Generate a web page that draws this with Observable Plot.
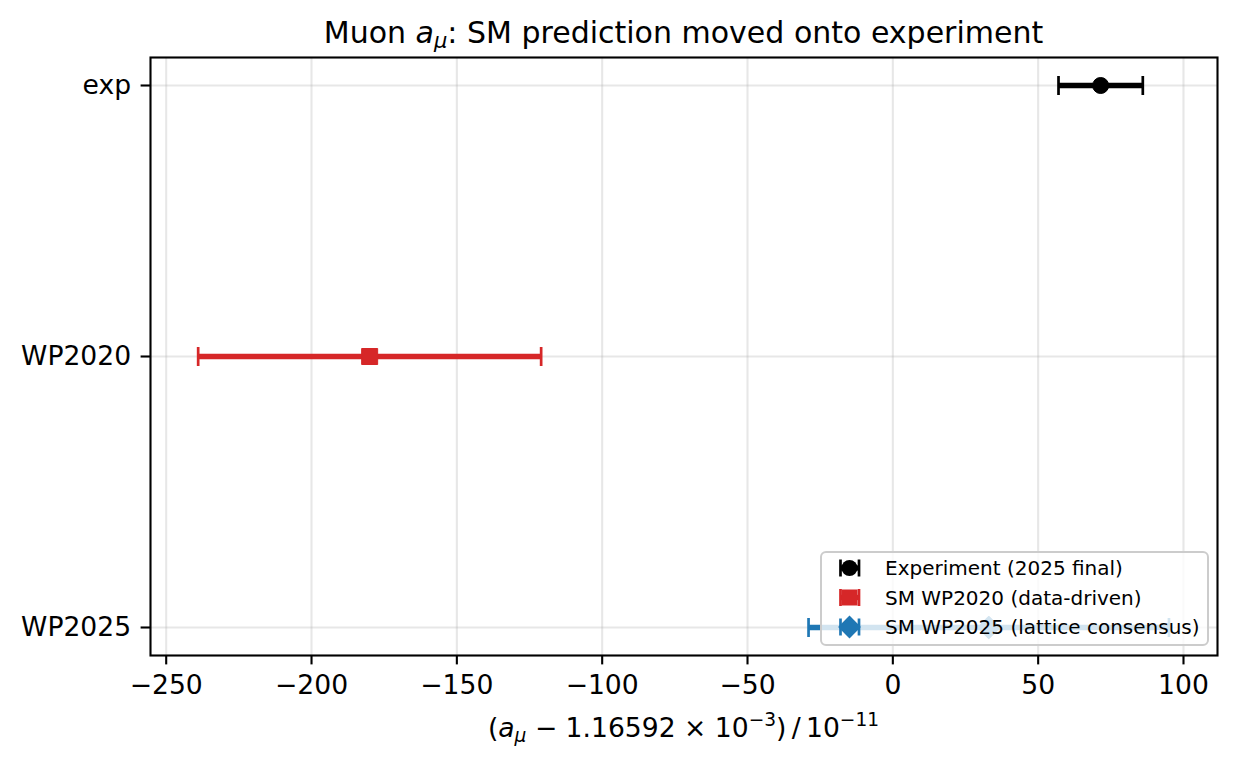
<!DOCTYPE html>
<html><head><meta charset="utf-8">
<script src="https://cdn.jsdelivr.net/npm/d3@7"></script>
<script src="https://cdn.jsdelivr.net/npm/@observablehq/plot@0.6"></script>
<style>
body{margin:0;background:#fff;}
svg{font-family:"DejaVu Sans",sans-serif;}
</style>
</head><body><div id="chart"></div>
<script>
// ---- data ----
const categories = ["exp", "WP2020", "WP2025"];
const seriesLabels = ["Experiment (2025 final)", "SM WP2020 (data-driven)", "SM WP2025 (lattice consensus)"];
const centers = [71.5, -180, 33];
const errors = [14.5, 59, 62];
const seriesColors = ["#000000", "#d62728", "#1f77b4"];
const seriesSymbols = ["circle", "square", "diamond"];
const xTicks = [-250, -200, -150, -100, -50, 0, 50, 100];
const xDomain = [-255.4, 111.7];

const data = categories.map((c, i) => ({
  cat: c, label: seriesLabels[i], v: centers[i],
  lo: centers[i] - errors[i], hi: centers[i] + errors[i],
  color: seriesColors[i], sym: seriesSymbols[i]
}));

// ---- custom symbols ----
const capSymbol = {draw(ctx, size){const r = Math.sqrt(size/Math.PI); ctx.moveTo(0,-r); ctx.lineTo(0,r);}};
const squareSymbol = {draw(ctx, size){const r = Math.sqrt(size/Math.PI); ctx.rect(-r,-r,2*r,2*r);}};
const diamondSymbol = {draw(ctx, size){const r = Math.sqrt(size/Math.PI); ctx.moveTo(0,-r); ctx.lineTo(r,0); ctx.lineTo(0,r); ctx.lineTo(-r,0); ctx.closePath();}};
const symInfo = {
  circle: {symbol: "circle", r: 8},
  square: {symbol: squareSymbol, r: 8},
  diamond: {symbol: diamondSymbol, r: 11.4}
};

const fmt = d => d < 0 ? "\u2212" + Math.abs(d) : String(d);

const W = 1236, H = 767, mL = 150, mR = 19, mT = 57, mB = 112;
const gridStyle = {stroke: "#b0b0b0", strokeOpacity: 0.3, strokeWidth: 2.1};

const plot = Plot.plot({
  width: W, height: H,
  marginLeft: mL, marginRight: mR, marginTop: mT, marginBottom: mB,
  style: {fontFamily: "DejaVu Sans, sans-serif", fontSize: "26.6px", color: "#000", background: "#fff", overflow: "visible"},
  x: {domain: xDomain, label: null},
  y: {domain: categories, type: "point", padding: 0.1, label: null},
  color: {type: "identity"},
  marks: [
    Plot.gridX(xTicks, gridStyle),
    Plot.gridY(categories, gridStyle),
    Plot.ruleY(data, {y: "cat", x1: "lo", x2: "hi", stroke: "color", strokeWidth: 5.3}),
    Plot.dot(data, {x: "lo", y: "cat", symbol: capSymbol, r: 9.5, stroke: "color", strokeWidth: 2.7, fill: "none"}),
    Plot.dot(data, {x: "hi", y: "cat", symbol: capSymbol, r: 9.5, stroke: "color", strokeWidth: 2.7, fill: "none"}),
    ...data.map(d => Plot.dot([d], {x: "v", y: "cat", symbol: symInfo[d.sym].symbol, r: symInfo[d.sym].r, fill: "color", stroke: "color", strokeWidth: 1})),
    Plot.frame({stroke: "#000", strokeWidth: 2.1}),
    Plot.axisX(xTicks, {tickFormat: fmt, tickSize: 9.4, tickPadding: 10.5, strokeWidth: 2.1, label: null}),
    Plot.axisY(categories, {tickSize: 9.4, tickPadding: 10, strokeWidth: 2.1, label: null})
  ]
});

document.getElementById("chart").appendChild(plot);
const svg = d3.select(plot);

// ---- title ----
const t = svg.append("text").attr("x", (mL + W - mR) / 2).attr("y", 43)
  .attr("text-anchor", "middle").attr("font-size", 30).attr("fill", "#000");
t.append("tspan").text("Muon ");
t.append("tspan").attr("font-style", "italic").text("a");
t.append("tspan").attr("font-style", "italic").attr("font-size", 21).attr("dy", 5).text("\u03bc");
t.append("tspan").attr("dy", -5).text(": SM prediction moved onto experiment");

// ---- x label ----
const xl = svg.append("text").attr("x", (mL + W - mR) / 2).attr("y", 737)
  .attr("text-anchor", "middle").attr("font-size", 26.6).attr("fill", "#000");
xl.append("tspan").text("(");
xl.append("tspan").attr("font-style", "italic").text("a");
xl.append("tspan").attr("font-style", "italic").attr("font-size", 18.6).attr("dy", 5).text("\u03bc");
xl.append("tspan").attr("dy", -5).text(" \u2212 1.16592 \u00d7 10");
xl.append("tspan").attr("font-size", 18.6).attr("dy", -11).text("\u22123");
xl.append("tspan").attr("dy", 11).text(")\u2009/\u200910");
xl.append("tspan").attr("font-size", 18.6).attr("dy", -11).text("\u221211");

// ---- legend ----
const lg = svg.append("g").attr("text-anchor", "start");
lg.append("rect").attr("x", 821).attr("y", 552).attr("width", 387).attr("height", 93)
  .attr("rx", 5).attr("fill", "#fff").attr("fill-opacity", 0.8)
  .attr("stroke", "#cccccc").attr("stroke-width", 2);
data.forEach((d, i) => {
  const cy = 568 + i * 29.5, cx = 849.5, x0 = 840.5, x1 = 859;
  lg.append("line").attr("x1", x0).attr("x2", x1).attr("y1", cy).attr("y2", cy)
    .attr("stroke", d.color).attr("stroke-width", 5.3);
  [x0, x1].forEach(x => lg.append("line").attr("x1", x).attr("x2", x).attr("y1", cy - 8.5).attr("y2", cy + 8.5)
    .attr("stroke", d.color).attr("stroke-width", 2.7));
  if (d.sym === "circle") {
    lg.append("circle").attr("cx", cx).attr("cy", cy).attr("r", 8).attr("fill", d.color);
  } else if (d.sym === "square") {
    lg.append("rect").attr("x", cx - 8).attr("y", cy - 8).attr("width", 16).attr("height", 16).attr("fill", d.color);
  } else {
    const r = 11.4;
    lg.append("path").attr("d", `M${cx},${cy - r}L${cx + r},${cy}L${cx},${cy + r}L${cx - r},${cy}Z`).attr("fill", d.color);
  }
  lg.append("text").attr("x", 885).attr("y", cy + 7).attr("text-anchor", "start")
    .attr("font-size", 20).attr("fill", "#000").text(d.label);
});
</script>
</body></html>
